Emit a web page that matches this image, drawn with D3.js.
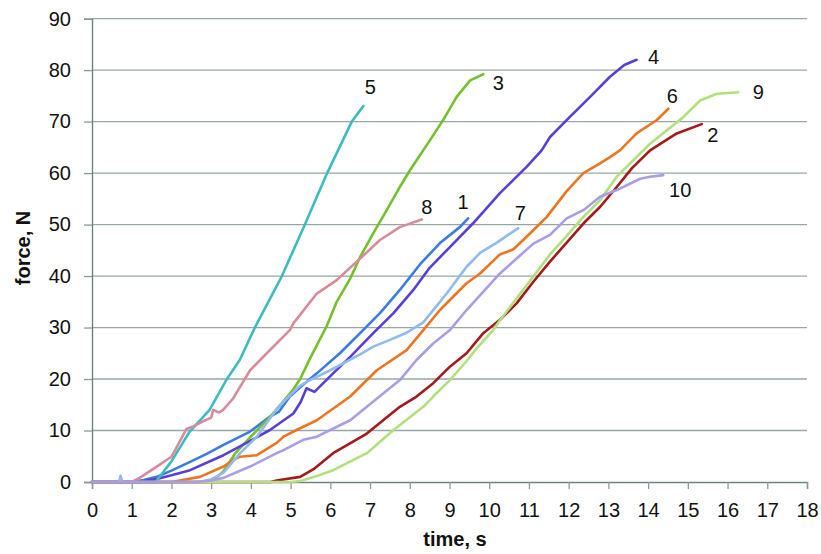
<!DOCTYPE html>
<html>
<head>
<meta charset="utf-8">
<script src="https://cdn.jsdelivr.net/npm/d3@7"></script>
<style>
  body { margin: 0; background: #fff; }
  svg { display: block; font-family: "Liberation Sans", Arial, sans-serif; }
</style>
</head>
<body>
<svg id="chart" width="821" height="554"></svg>
<script>
// ---- data (time in s, force in N) ----
const xTicks = d3.range(0, 19, 1);
const yTicks = d3.range(0, 100, 10);
const seriesNames = ["1","2","3","4","5","6","7","8","9","10"];
const seriesColors = ["#3a7ce0","#a3191c","#74c12b","#5a3fd6","#3dbcc0","#ea7622","#8fbbef","#d98b9c","#b1e07d","#aa9ce6"];

const s1 = [[0,0],[1.0,0],[1.3,0.4],[1.63,1.0],[2.0,2.2],[2.47,3.9],[2.9,5.5],[3.31,7.2],[3.98,9.8],[4.48,12.7],[4.7,13.6],[4.98,16.6],[5.3,18.8],[5.66,21.1],[6.24,25],[6.75,28.9],[7.25,32.8],[7.75,37.3],[8.26,42.3],[8.76,46.4],[9.26,49.5],[9.47,51.2]];
const s2 = [[0,0],[4.5,0],[4.65,0.3],[5.24,1.0],[5.6,2.6],[6.07,5.6],[6.92,9.4],[7.75,14.6],[8.17,16.6],[8.59,19.2],[9.01,22.4],[9.43,25],[9.85,28.9],[10.27,31.5],[10.69,34.7],[11.1,38.8],[11.53,42.8],[12.37,50.2],[12.8,53.5],[13.21,57.3],[13.6,61],[14.05,64.4],[14.72,67.7],[15.35,69.5]];
const s3 = [[0,0],[3.0,0],[3.3,2],[3.6,5.5],[4.0,8.8],[4.5,12.8],[4.8,15.5],[5.07,18],[5.24,20],[5.49,24],[5.91,30.3],[6.16,35],[6.5,39.5],[6.75,43.7],[7.08,48.3],[7.42,52.8],[7.75,57.3],[8.0,60.5],[8.51,66.4],[8.84,70.3],[9.18,74.8],[9.52,78],[9.85,79.2]];
const s4 = [[0,0],[1.2,0],[1.63,0.6],[2.0,1.3],[2.47,2.3],[3.31,5.2],[3.89,7.6],[4.48,10.1],[5.07,13.3],[5.25,15.5],[5.4,18.2],[5.6,17.5],[6.07,21.1],[6.5,24.3],[7.08,28.9],[7.59,32.8],[8.09,37.3],[8.5,41.6],[8.93,45],[9.6,50.3],[10.27,56.1],[10.94,61.2],[11.32,64.4],[11.53,67],[12.03,70.9],[12.54,74.8],[13.04,78.7],[13.4,81],[13.71,82]];
const s5 = [[0,0],[1.6,0],[2.0,4],[2.46,9.8],[2.96,14],[3.38,19.8],[3.72,23.7],[4.1,30],[4.78,40],[5.36,50],[5.92,60],[6.54,70],[6.83,73]];
const s6 = [[0,0],[2.0,0],[2.72,1],[3.31,3],[3.6,4.5],[3.73,4.9],[4.15,5.2],[4.65,7.6],[4.82,8.8],[5.15,10.1],[5.66,12],[6.5,16.6],[7.17,21.7],[7.92,25.6],[8.34,29.5],[8.76,33.4],[9.43,38.6],[9.77,40.5],[10.27,44.2],[10.61,45.2],[11.11,48.9],[11.45,51.5],[11.95,56.5],[12.37,60],[12.79,61.9],[13.04,63.1],[13.29,64.4],[13.71,67.7],[14.22,70.3],[14.51,72.5]];
const s7 = [[0,0],[0.68,0],[0.72,1.2],[0.76,0],[2.7,0],[3.0,0.5],[3.31,1.8],[3.73,5.6],[4.15,8.8],[4.65,14.2],[4.98,16.8],[5.24,18.7],[5.49,19.8],[6.0,21.7],[6.75,24.8],[7.08,26.3],[7.5,27.6],[7.92,29],[8.34,31],[8.93,36.6],[9.43,41.8],[9.77,44.5],[10.19,46.5],[10.73,49.3]];
const s8 = [[0,0],[1.0,0],[1.2,0.8],[1.63,3],[2.0,4.9],[2.38,10.3],[2.55,10.8],[2.8,11.8],[3.0,12.5],[3.05,14],[3.2,13.5],[3.3,14.0],[3.55,16.2],[3.98,21.7],[4.4,25],[4.98,29.5],[5.07,30.8],[5.66,36.6],[6.16,39.2],[6.75,43.4],[7.25,47],[7.75,49.5],[8.3,51]];
const s9 = [[2.7,0],[5.0,0],[5.24,0.2],[5.6,1],[6.07,2.3],[6.92,5.6],[7.59,10.1],[8.34,14.6],[8.59,16.6],[9.01,19.8],[9.43,23.5],[9.69,26],[10.1,29.5],[10.27,31.4],[11.11,39.9],[11.53,44.2],[11.95,47.8],[12.37,51.5],[12.79,54.7],[13.21,59.3],[13.63,62.5],[14.05,65.7],[14.89,70.9],[15.31,74.1],[15.73,75.4],[16.27,75.7]];
const s10 = [[0,0],[2.6,0],[3.0,0.3],[3.31,0.8],[3.98,3],[4.65,5.6],[4.82,6.2],[5.1,7.3],[5.32,8.2],[5.66,8.8],[6.5,12],[7.33,17.2],[7.75,19.8],[8.17,23.7],[8.59,26.9],[9.01,29.5],[9.43,33.4],[10.27,40.5],[11.11,46.3],[11.53,48],[11.95,51.2],[12.37,52.8],[12.79,55.4],[13.21,56.7],[13.8,58.9],[14.05,59.3],[14.38,59.6]];
const allSeries = [s1,s2,s3,s4,s5,s6,s7,s8,s9,s10];

// label offsets (px) from each series' last point
const labelOffsets = [[-5,-16],[11,11],[15,9],[17,-3],[7,-19],[4,-13],[2,-15],[5,-12],[20,0],[17,15]];

// ---- drawing ----
const svg = d3.select("#chart");
const mLeft = 92, mRight = 807, mTop = 18.6, mBottom = 482;
const x = d3.scaleLinear().domain([0, 18]).range([mLeft, mRight]);
const y = d3.scaleLinear().domain([0, 90]).range([mBottom, mTop]);

// gridlines
svg.append("g").selectAll("line").data(yTicks.filter(d => d > 0)).join("line")
  .attr("x1", mLeft).attr("x2", mRight)
  .attr("y1", d => y(d)).attr("y2", d => y(d))
  .attr("stroke", "#97a6a6").attr("stroke-width", 1.3);

// y axis
const yAxis = svg.append("g").attr("transform", `translate(${mLeft},0)`)
  .call(d3.axisLeft(y).tickValues(yTicks).tickSize(8).tickPadding(13).tickFormat(d3.format("d")));
yAxis.select(".domain").attr("stroke", "#6f8282").attr("stroke-width", 1.4);
yAxis.selectAll(".tick line").attr("stroke", "#8a9a9a").attr("stroke-width", 1.3);
yAxis.selectAll("text").attr("font-size", 20).attr("fill", "#111").attr("font-family", "Liberation Sans, Arial, sans-serif");

// x axis
const xAxis = svg.append("g").attr("transform", `translate(0,${mBottom})`)
  .call(d3.axisBottom(x).tickValues(xTicks).tickSize(7).tickPadding(14).tickFormat(d3.format("d")));
xAxis.select(".domain").attr("stroke", "#6f8282").attr("stroke-width", 1.4);
xAxis.selectAll(".tick line").attr("stroke", "#8a9a9a").attr("stroke-width", 1.3);
xAxis.selectAll("text").attr("font-size", 20).attr("fill", "#111").attr("font-family", "Liberation Sans, Arial, sans-serif");

// lines
const line = d3.line().x(d => x(d[0])).y(d => y(d[1]));
svg.append("g").selectAll("path").data(allSeries).join("path")
  .attr("d", line)
  .attr("fill", "none")
  .attr("stroke", (d, i) => seriesColors[i])
  .attr("stroke-width", 2.6)
  .attr("stroke-linejoin", "round")
  .attr("stroke-linecap", "round");

// series labels
svg.append("g").selectAll("text").data(allSeries).join("text")
  .attr("x", (d, i) => x(d[d.length - 1][0]) + labelOffsets[i][0])
  .attr("y", (d, i) => y(d[d.length - 1][1]) + labelOffsets[i][1])
  .attr("text-anchor", "middle")
  .attr("dominant-baseline", "central")
  .attr("font-size", 20)
  .attr("fill", "#111")
  .text((d, i) => seriesNames[i]);

// axis titles
svg.append("text").attr("x", 455).attr("y", 546).attr("text-anchor", "middle")
  .attr("font-size", 20).attr("font-weight", "bold").attr("fill", "#111").text("time, s");
svg.append("text").attr("transform", "translate(30,248) rotate(-90)").attr("text-anchor", "middle")
  .attr("font-size", 20).attr("font-weight", "bold").attr("fill", "#111").text("force, N");
</script>
</body>
</html>
